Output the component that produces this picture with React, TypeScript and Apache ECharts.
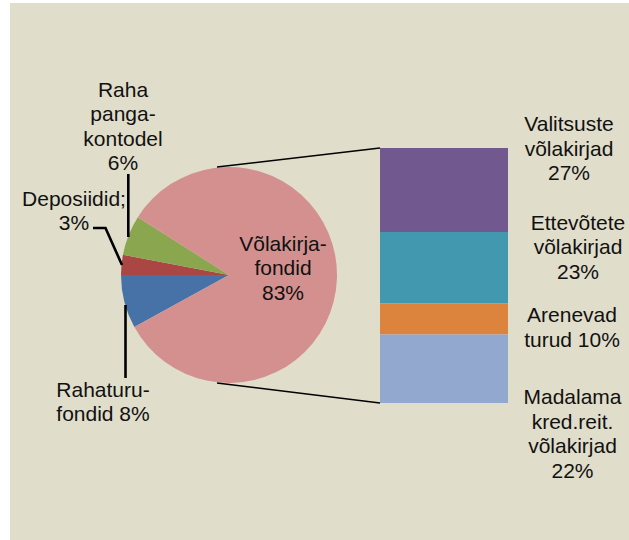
import React, { useEffect, useRef } from "react";
import * as echarts from "echarts";

// Pie (left): slices in clockwise order starting at lower-left
const pieNames = ["Rahaturu-fondid", "Deposiidid", "Raha pangakontodel", "Võlakirja-fondid"];
const pieValues = [8, 3, 6, 83];
const pieColors = ["#4672A8", "#AA4744", "#8AA64F", "#D3908F"];
const pieLabelTexts = ["Rahaturu-\nfondid 8%", "Deposiidid;\n3%", "Raha\npanga-\nkontodel\n6%", "Võlakirja-\nfondid\n83%"];

// Bar (right): stacked top to bottom
const barNames = ["Valitsuste võlakirjad", "Ettevõtete võlakirjad", "Arenevad turud", "Madalama kred.reit. võlakirjad"];
const barValues = [27, 23, 10, 22];
const barColors = ["#71588F", "#4298AF", "#DC833E", "#93A8CF"];
const barLabelTexts = ["Valitsuste\nvõlakirjad\n27%", "Ettevõtete\nvõlakirjad\n23%", "Arenevad\nturud 10%", "Madalama\nkred.reit.\nvõlakirjad\n22%"];

const FONT = '"Liberation Sans", Arial, sans-serif';

export default function App() {
  const ref = useRef<HTMLDivElement>(null);
  useEffect(() => {
    if (!ref.current) return;
    const chart = echarts.init(ref.current, null, { renderer: "svg" });
    const total = pieValues.reduce((a, b) => a + b, 0);
    const startAngle = 180 + (pieValues[0] / total) * 360;

    const pieLabelPos = [
      [103, 401.5],
      [74, 210.5],
      [123, 126],
      [283, 267.5],
    ];
    const barLabelPos = [
      [569, 148],
      [578, 246.5],
      [572, 327],
      [572.5, 433.5],
    ];

    const textEl = (t: string, x: number, y: number) => ({
      type: "text",
      silent: true,
      z: 10,
      style: {
        text: t,
        x,
        y,
        align: "center",
        verticalAlign: "middle",
        fontSize: 21,
        fontFamily: FONT,
        lineHeight: 24.5,
        fill: "#111",
      },
    });

    const option: any = {
      animation: false,
      backgroundColor: "#ffffff",
      graphic: [
        {
          type: "rect",
          z: -10,
          silent: true,
          shape: { x: 10, y: 3, width: 619, height: 537 },
          style: { fill: "#E0DDCA" },
        },
        ...pieLabelTexts.map((t, i) => textEl(t, pieLabelPos[i][0], pieLabelPos[i][1])),
        ...barLabelTexts.map((t, i) => textEl(t, barLabelPos[i][0], barLabelPos[i][1])),
        // connector lines pie -> bar
        {
          type: "line",
          z: 5,
          silent: true,
          shape: { x1: 217, y1: 167, x2: 380, y2: 148 },
          style: { stroke: "#000", lineWidth: 1.6 },
        },
        {
          type: "line",
          z: 5,
          silent: true,
          shape: { x1: 217, y1: 383, x2: 380, y2: 403 },
          style: { stroke: "#000", lineWidth: 1.6 },
        },
        // leader lines
        {
          type: "line",
          z: 5,
          silent: true,
          shape: { x1: 128.3, y1: 174, x2: 128.3, y2: 237 },
          style: { stroke: "#000", lineWidth: 2.6 },
        },
        {
          type: "polyline",
          z: 5,
          silent: true,
          shape: { points: [[93, 228], [105.5, 228], [122, 265]] },
          style: { stroke: "#000", lineWidth: 2.6, fill: null },
        },
        {
          type: "line",
          z: 5,
          silent: true,
          shape: { x1: 125.5, y1: 305, x2: 125.5, y2: 378 },
          style: { stroke: "#000", lineWidth: 2.6 },
        },
      ],
      grid: { left: 380, top: 148, width: 128, height: 255 },
      xAxis: { type: "category", data: ["bar"], show: false },
      yAxis: { type: "value", min: 0, max: 82, inverse: true, show: false },
      series: [
        {
          type: "pie",
          center: [229, 275],
          radius: 108,
          startAngle,
          clockwise: true,
          silent: true,
          label: { show: false },
          labelLine: { show: false },
          itemStyle: { borderWidth: 0 },
          data: pieValues.map((v, i) => ({
            name: pieNames[i],
            value: v,
            itemStyle: { color: pieColors[i] },
          })),
        },
        ...barValues.map((v, i) => ({
          type: "bar",
          name: barNames[i],
          stack: "s",
          barWidth: "100%",
          silent: true,
          itemStyle: { color: barColors[i] },
          data: [v],
        })),
      ],
    };
    chart.setOption(option);
    return () => chart.dispose();
  }, []);
  return (
    <div
      ref={ref}
      style={{ position: "absolute", left: 0, top: 0, width: 629, height: 540 }}
    />
  );
}
